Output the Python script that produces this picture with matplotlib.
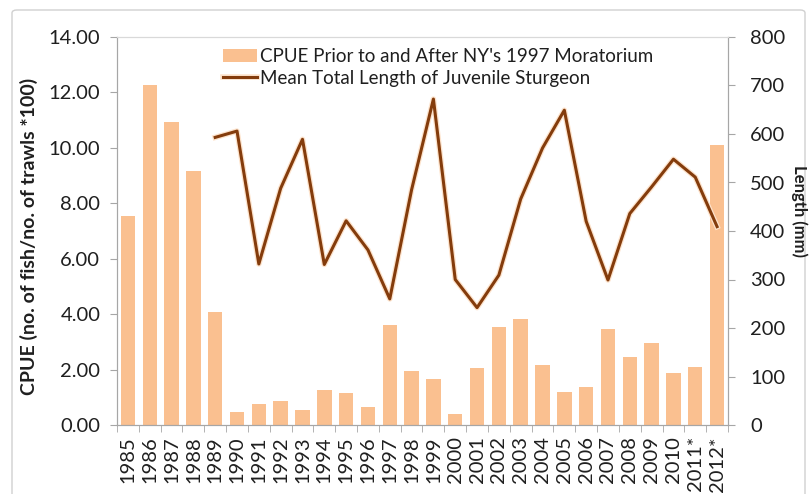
import numpy as np
import matplotlib
matplotlib.use('Agg')
import matplotlib.pyplot as plt
import matplotlib.patheffects as pe
from matplotlib.patches import FancyBboxPatch
from matplotlib.ticker import FixedLocator, FormatStrFormatter

plt.rcParams['font.family'] = ['Lato', 'DejaVu Sans']

years = ['1985', '1986', '1987', '1988', '1989', '1990', '1991', '1992', '1993', '1994',
         '1995', '1996', '1997', '1998', '1999', '2000', '2001', '2002', '2003', '2004',
         '2005', '2006', '2007', '2008', '2009', '2010', '2011*', '2012*']
cpue = [7.55, 12.27, 10.95, 9.17, 4.08, 0.47, 0.77, 0.85, 0.55, 1.25,
        1.17, 0.65, 3.60, 1.96, 1.65, 0.40, 2.05, 3.55, 3.84, 2.18,
        1.18, 1.38, 3.45, 2.47, 2.96, 1.87, 2.08, 10.10]
# mean length starts in 1989
length = [np.nan, np.nan, np.nan, np.nan, 593, 606, 332, 488, 589, 331,
          421, 361, 260, 485, 672, 300, 242, 309, 466, 571,
          649, 420, 299, 436, 491, 548, 511, 409]

bar_color = '#FAC090'
line_color = '#843C0C'
axis_color = '#A6A6A6'
text_color = '#1F1F1F'

W, H = 810, 494
fig = plt.figure(figsize=(8.1, 4.94), dpi=100)
# outer chart frame
fig.patches.append(FancyBboxPatch((12 / W, -0.05), 793 / W, 1.05 - 10 / H,
                                  boxstyle='round,pad=0,rounding_size=0.006',
                                  transform=fig.transFigure, fill=False,
                                  edgecolor='#D0D0D0', linewidth=1.0))

ax = fig.add_axes([117 / W, 69 / H, 611 / W, 388 / H])
x = np.arange(len(years))
b = ax.bar(x, cpue, width=0.66, color=bar_color, zorder=2,
           label="CPUE Prior to and After NY's 1997 Moratorium")
ax.set_xlim(-0.5, len(years) - 0.5)
ax.set_ylim(0, 14)
ax.set_yticks(np.arange(0, 14.01, 2))
ax.yaxis.set_major_formatter(FormatStrFormatter('%.2f'))
ax.set_xticks(x)
ax.set_xticklabels(years, rotation=90)
ax.xaxis.set_minor_locator(FixedLocator(np.arange(-0.5, len(years), 1)))
ax.tick_params(axis='x', which='major', length=0, pad=8, labelsize=14.5, colors=text_color)
ax.tick_params(axis='x', which='minor', length=5, color=axis_color, direction='out')
ax.tick_params(axis='y', length=5, color=axis_color, labelcolor=text_color,
               labelsize=14.5, pad=7)
for s in ['left', 'bottom', 'right']:
    ax.spines[s].set_color(axis_color)
ax.spines['top'].set_color('#D9D9D9')

ax2 = ax.twinx()
ln, = ax2.plot(x, length, color=line_color, linewidth=2.2, zorder=3,
               label='Mean Total Length of Juvenile Sturgeon',
               path_effects=[pe.Stroke(linewidth=4, foreground='#FDE3CC'), pe.Normal()])
ax2.set_ylim(0, 800)
ax2.set_yticks(np.arange(0, 801, 100))
ax2.tick_params(axis='y', length=5, color=axis_color, labelcolor=text_color,
                labelsize=14.5, pad=11)
for s in ['left', 'bottom', 'right']:
    ax2.spines[s].set_color(axis_color)
ax2.spines['top'].set_color('#D9D9D9')

# axis titles
fig.text(28.5 / W, 1 - 236 / H, 'CPUE (no. of fish/no. of trawls *100)', rotation=90,
         ha='center', va='center', fontsize=14, fontweight='bold', color=text_color)
fig.text(799 / W, 1 - 211 / H, 'Length (mm)', rotation=270,
         ha='center', va='center', fontsize=12, fontweight='bold', color=text_color)

leg = ax.legend([b, ln], [b.get_label(), ln.get_label()], loc='upper left',
                bbox_to_anchor=(223 / W, 1 - 48 / H), bbox_transform=fig.transFigure,
                frameon=False, fontsize=13.5, handlelength=1.8, handletextpad=0.15,
                labelspacing=0.25, borderpad=0, borderaxespad=0)
for t in leg.get_texts():
    t.set_color(text_color)

fig.savefig('out.png', dpi=100)
